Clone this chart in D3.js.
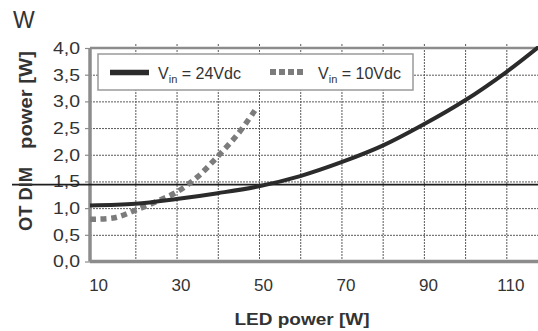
<!DOCTYPE html>
<html>
<head>
<meta charset="utf-8">
<script src="https://cdn.jsdelivr.net/npm/d3@7"></script>
<style>
   body { margin: 0; background: #fff; }
   text, tspan { font-family: "Liberation Sans", Arial, sans-serif; fill: #333; }
</style>
</head>
<body>
<div id="chart"></div>
<script>
// SERIES DATA - LED POWER [W] VS OT DIM POWER [W]
var ledPower24 = [9, 20, 30, 40, 50, 60, 70, 80, 90, 100, 110, 118];
var dimPower24 = [1.05, 1.08, 1.17, 1.28, 1.41, 1.60, 1.86, 2.17, 2.57, 3.02, 3.55, 4.03];
var ledPower10 = [9, 15, 20, 25, 30, 35, 40, 45, 49];
var dimPower10 = [0.79, 0.82, 0.96, 1.12, 1.30, 1.58, 1.97, 2.40, 2.83];

// TICKS AND LABELS
var xTicks = [10, 30, 50, 70, 90, 110];
var xGrid = [20, 30, 40, 50, 60, 70, 80, 90, 100, 110];
var yTicks = [0, 0.5, 1, 1.5, 2, 2.5, 3, 3.5, 4];
var yGrid = [0.5, 1, 1.5, 2, 2.5, 3, 3.5];
var limitLine = 1.44;
var legendLabels = ['24Vdc', '10Vdc'];

// SETTINGS OBJECT
var settings = {
   width: 538,
   height: 331,
   left: 90,
   right: 539.3,
   top: 48,
   bottom: 261.5,
   border: '#8c8c8c',
   grid: '#5a5a5a',
   dark: '#2b2b2b',
   dotted: '#7c7c7c'
}

// SCALES
var xScale = d3.scaleLinear()
   .domain([9, 118])
   .range([settings.left, settings.right])

var yScale = d3.scaleLinear()
   .domain([0, 4])
   .range([settings.bottom, settings.top])

// GENERATE CANVAS
var canvas = d3.select('#chart').append('svg')
   .attr('width', settings.width)
   .attr('height', settings.height)

canvas.append('clipPath').attr('id', 'plotclip')
   .append('rect')
   .attr('x', settings.left)
   .attr('y', settings.top - 2)
   .attr('width', settings.right - settings.left)
   .attr('height', settings.bottom - settings.top + 2)

// VERTICAL GRID (AXIS TICKS STRETCHED DOWN THE PLOT)
var vGrid = canvas.append('g')
   .attr('transform', 'translate(0,' + (settings.top - 4) + ')')
   .call(d3.axisTop(xScale)
      .tickValues(xGrid)
      .tickSize(-(settings.bottom - settings.top + 4))
      .tickFormat(''))

vGrid.select('.domain').remove()
vGrid.selectAll('line')
   .attr('stroke', settings.grid)
   .attr('stroke-width', 1)
   .attr('stroke-dasharray', '2,1')

// HORIZONTAL GRID
var hGrid = canvas.append('g')
   .attr('transform', 'translate(' + settings.left + ',0)')
   .call(d3.axisRight(yScale)
      .tickValues(yGrid)
      .tickSize(settings.width - settings.left)
      .tickFormat(''))

hGrid.select('.domain').remove()
hGrid.selectAll('line')
   .attr('stroke', settings.grid)
   .attr('stroke-width', 1)
   .attr('stroke-dasharray', '2,1')

// Y AXIS
var yAxis = canvas.append('g')
   .attr('transform', 'translate(' + settings.left + ',0)')
   .call(d3.axisLeft(yScale)
      .tickValues(yTicks)
      .tickSize(5)
      .tickPadding(5)
      .tickFormat((d) => { return d3.format('.1f')(d).replace('.', ','); }))

yAxis.select('.domain').remove()
yAxis.selectAll('line').attr('stroke', settings.border).attr('stroke-width', 1.2)
yAxis.selectAll('text')
   .style('font-family', '"Liberation Sans", Arial, sans-serif')
   .style('font-size', '17px')
   .attr('fill', '#333')
   .attr('textLength', 27)
   .attr('lengthAdjust', 'spacingAndGlyphs')

// X AXIS LABELS
var xAxis = canvas.append('g')
   .attr('transform', 'translate(0,' + settings.bottom + ')')
   .call(d3.axisBottom(xScale)
      .tickValues(xTicks)
      .tickSize(0)
      .tickPadding(17))

xAxis.select('.domain').remove()
xAxis.selectAll('text')
   .style('font-family', '"Liberation Sans", Arial, sans-serif')
   .style('font-size', '17px')
   .attr('fill', '#333')
   .attr('dx', 4)

// PLOT BORDER
canvas.append('line')
   .attr('x1', settings.left)
   .attr('x2', settings.width)
   .attr('y1', settings.top)
   .attr('y2', settings.top)
   .attr('stroke', settings.border)
   .attr('stroke-width', 2.5)

canvas.append('line')
   .attr('x1', settings.left)
   .attr('x2', settings.width)
   .attr('y1', settings.bottom)
   .attr('y2', settings.bottom)
   .attr('stroke', settings.border)
   .attr('stroke-width', 3.5)

canvas.append('line')
   .attr('x1', settings.left)
   .attr('x2', settings.left)
   .attr('y1', settings.top)
   .attr('y2', settings.bottom)
   .attr('stroke', settings.border)
   .attr('stroke-width', 3.5)

// LIMIT LINE
canvas.append('line')
   .attr('x1', 12)
   .attr('x2', settings.width)
   .attr('y1', yScale(limitLine))
   .attr('y2', yScale(limitLine))
   .attr('stroke', '#1e1e1e')
   .attr('stroke-width', 1.8)

// LEGEND BOX
var legend = canvas.append('g')

legend.append('rect')
   .attr('x', 98)
   .attr('y', 54)
   .attr('width', 315)
   .attr('height', 36)
   .attr('fill', '#fff')
   .attr('stroke', '#9a9a9a')
   .attr('stroke-width', 1.5)

legend.append('line')
   .attr('x1', 110).attr('x2', 149)
   .attr('y1', 72.5).attr('y2', 72.5)
   .attr('stroke', settings.dark)
   .attr('stroke-width', 5.5)

legend.append('line')
   .attr('x1', 270).attr('x2', 305)
   .attr('y1', 72).attr('y2', 72)
   .attr('stroke', settings.dotted)
   .attr('stroke-width', 6)
   .attr('stroke-dasharray', '6,3')

var legendX = [158, 318];
legendLabels.forEach((label, i) => {
   var t = legend.append('text')
      .attr('x', legendX[i])
      .attr('y', 78.5)
      .style('font-size', '16px')
      .attr('textLength', 83)
      .attr('lengthAdjust', 'spacingAndGlyphs')
   t.append('tspan').text('V')
   t.append('tspan').attr('dy', 4).style('font-size', '11px').text('in')
   t.append('tspan').attr('dy', -4).text(' = ' + label)
})

// CURVES
var pathify = d3.line()
   .x((d) => { return xScale(d[0]) })
   .y((d) => { return yScale(d[1]) })
   .curve(d3.curveCatmullRom.alpha(0.5))

canvas.append('path')
   .attr('clip-path', 'url(#plotclip)')
   .attr('fill', 'none')
   .attr('stroke', settings.dotted)
   .attr('stroke-width', 5.5)
   .attr('stroke-dasharray', '6,4.5')
   .attr('d', pathify(d3.zip(ledPower10, dimPower10)))

canvas.append('path')
   .attr('clip-path', 'url(#plotclip)')
   .attr('fill', 'none')
   .attr('stroke', settings.dark)
   .attr('stroke-width', 4)
   .attr('d', pathify(d3.zip(ledPower24, dimPower24)))

// TITLES
canvas.append('text')
   .attr('x', 13)
   .attr('y', 28)
   .style('font-size', '23px')
   .attr('fill', '#444')
   .text('W')

canvas.append('text')
   .attr('x', 302)
   .attr('y', 325)
   .attr('text-anchor', 'middle')
   .style('font-size', '17px')
   .style('font-weight', 'bold')
   .attr('textLength', 135)
   .attr('lengthAdjust', 'spacingAndGlyphs')
   .text('LED power [W]')

canvas.append('text')
   .attr('transform', 'translate(32,199) rotate(-90)')
   .attr('text-anchor', 'middle')
   .style('font-size', '18px')
   .style('font-weight', 'bold')
   .attr('textLength', 64)
   .attr('lengthAdjust', 'spacingAndGlyphs')
   .text('OT DIM')

canvas.append('text')
   .attr('transform', 'translate(32,100) rotate(-90)')
   .attr('text-anchor', 'middle')
   .style('font-size', '18px')
   .style('font-weight', 'bold')
   .attr('textLength', 98)
   .attr('lengthAdjust', 'spacingAndGlyphs')
   .text('power [W]')
</script>
</body>
</html>
